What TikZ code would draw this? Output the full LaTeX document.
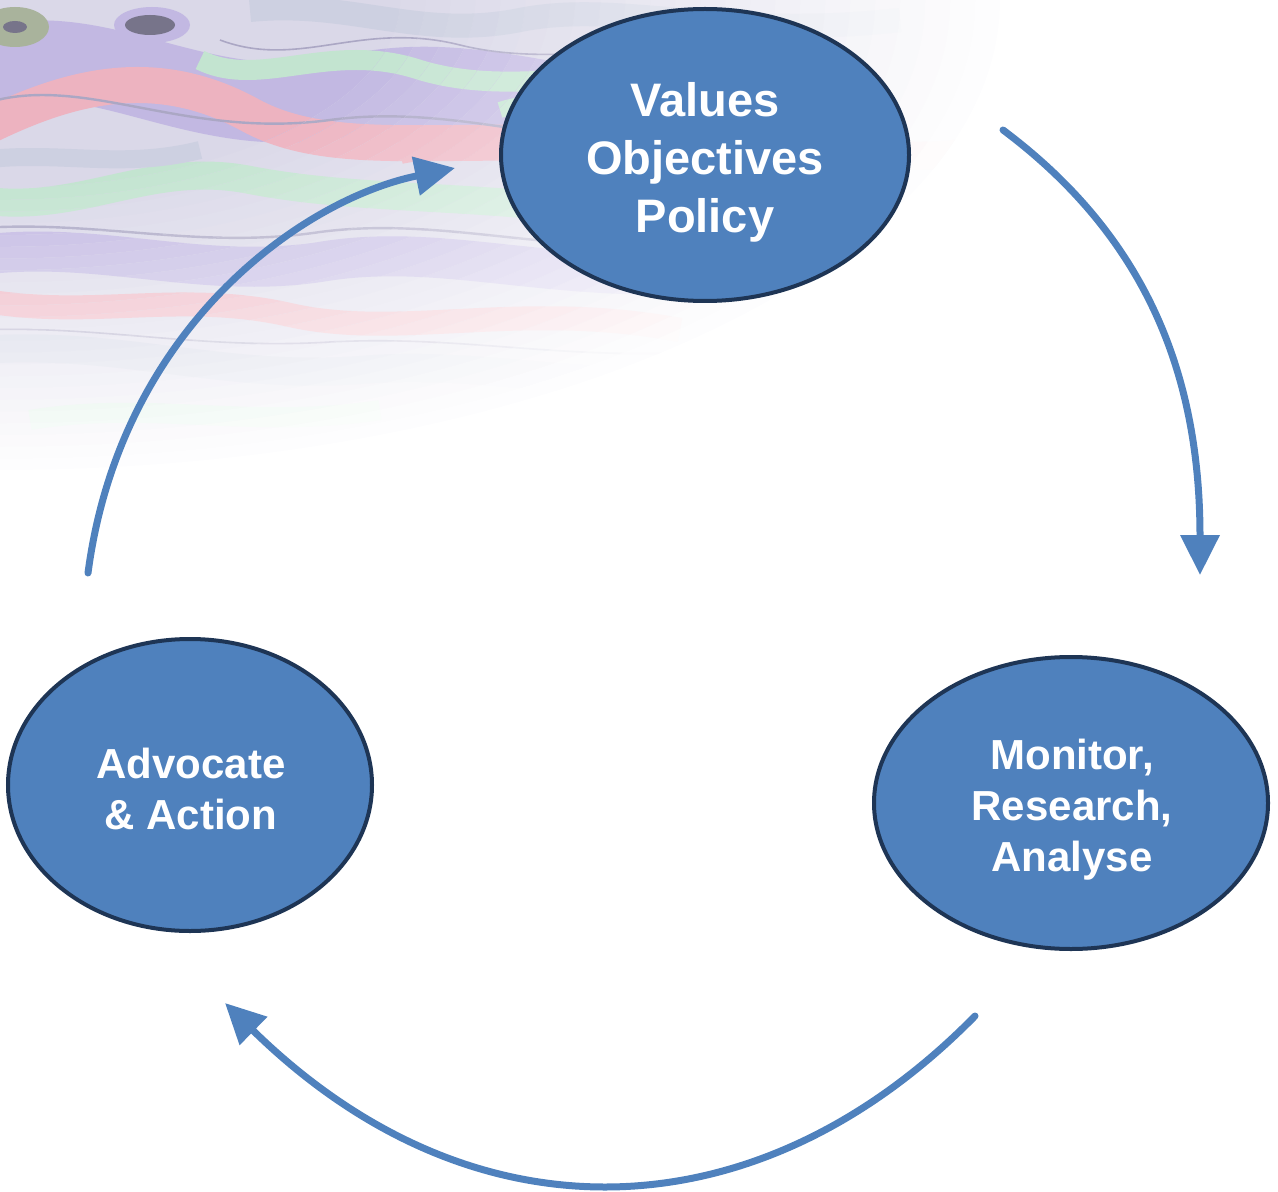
\documentclass[tikz,border=0pt]{standalone}
\usepackage{fontspec}
\setmainfont{Liberation Sans}
\usetikzlibrary{shapes.geometric,arrows.meta}
\definecolor{nodeblue}{HTML}{4F81BD}
\definecolor{nodeborder}{HTML}{1E3555}
\definecolor{arcblue}{HTML}{4F81BD}
\definecolor{texbase}{HTML}{DAD8E8}
\definecolor{texlav}{HTML}{C2B8E2}
\definecolor{texpink}{HTML}{EDB3C0}
\definecolor{texmint}{HTML}{C3E4D0}
\definecolor{texgrey}{HTML}{CDD0E1}
\definecolor{texline}{HTML}{ABA7C4}
\definecolor{texdark}{HTML}{77748A}
\definecolor{texolive}{HTML}{A9B39C}
\newcommand{\marblepaint}[1]{%
  \fill[texbase!#1!white] (0,0) rectangle (1000,470);
  \draw[line width=40pt, texlav!#1!white] (-20,70) .. controls (100,30) and (200,130) .. (350,95)
        .. controls (500,60) and (620,150) .. (820,110);
  \draw[line width=18pt, texpink!#1!white] (-20,130) .. controls (60,90) and (150,60) .. (250,115)
        .. controls (350,170) and (500,120) .. (720,160);
  \draw[line width=14pt, texmint!#1!white] (-20,200) .. controls (80,215) and (150,160) .. (250,180)
        .. controls (380,205) and (520,190) .. (700,230);
  \draw[line width=20pt, texlav!#1!white] (-20,255) .. controls (100,240) and (200,280) .. (320,262)
        .. controls (450,240) and (560,290) .. (760,270);
  \draw[line width=12pt, texpink!#1!white] (-20,300) .. controls (90,320) and (180,290) .. (290,315)
        .. controls (400,340) and (520,300) .. (680,330);
  \draw[line width=14pt, texgrey!#1!white] (-20,350) .. controls (120,340) and (220,380) .. (360,370)
        .. controls (480,360) and (580,390) .. (720,380);
  \draw[line width=10pt, texmint!#1!white] (200,60) .. controls (260,90) and (330,40) .. (420,70)
        .. controls (520,100) and (620,60) .. (760,80);
  \draw[line width=14pt, texpink!#1!white] (400,150) .. controls (500,130) and (600,170) .. (700,150)
        .. controls (800,130) and (880,170) .. (980,150);
  \draw[line width=12pt, texgrey!#1!white] (250,10) .. controls (350,0) and (420,40) .. (520,20)
        .. controls (620,0) and (720,40) .. (900,20);
  \draw[line width=10pt, texmint!#1!white] (30,420) .. controls (150,400) and (250,430) .. (380,410);
  \draw[line width=9pt, texgrey!#1!white] (-20,160) .. controls (60,150) and (120,170) .. (200,150);
  \draw[line width=8pt, texmint!#1!white] (500,110) .. controls (560,90) and (640,120) .. (720,100);
  \draw[line width=1.2pt, texline!#1!white] (-20,105) .. controls (80,70) and (180,140) .. (330,120)
        .. controls (480,100) and (600,170) .. (820,140);
  \draw[line width=1.2pt, texline!#1!white] (-20,228) .. controls (100,220) and (200,250) .. (320,232)
        .. controls (450,215) and (560,260) .. (760,245);
  \draw[line width=0.8pt, texline!#1!white] (-20,330) .. controls (100,325) and (200,350) .. (330,342)
        .. controls (460,335) and (560,360) .. (700,352);
  \draw[line width=0.8pt, texline!#1!white] (220,40) .. controls (300,70) and (360,20) .. (460,45)
        .. controls (560,70) and (660,35) .. (820,55);
  \fill[texolive!#1!white] (15,27) ellipse [x radius=34, y radius=20];
  \fill[texdark!#1!white] (15,27) ellipse [x radius=12, y radius=6];
  \fill[texlav!#1!white] (152,25) ellipse [x radius=38, y radius=18];
  \fill[texdark!#1!white] (150,25) ellipse [x radius=25, y radius=10];
}
\begin{document}
\begin{tikzpicture}[x=0.5pt,y=-0.5pt,
  stage/.style={ellipse, draw=nodeborder, line width=2pt, fill=nodeblue, inner sep=0pt},
  stagetext/.style={text=white, align=center, inner sep=0pt},
  bigtext/.style={font=\fontsize{23.5}{29}\selectfont\bfseries},
  midtext/.style={font=\fontsize{21}{25.5}\selectfont\bfseries},
  cycle arrow/.style={draw=arcblue, line width=3.5pt, line cap=round,
    -{Triangle[length=20pt,width=19pt]}}]
\useasboundingbox (0,0) rectangle (1278,1192);

% ---- marbled background texture (top-left), fading into white ----
\foreach \k in {0,...,24}{
  \pgfmathsetmacro{\f}{1-0.025*\k}
  \pgfmathtruncatemacro{\p}{min(100,4*\k+4)}
  \begin{scope}
    \clip (0,0) ellipse [x radius=1000*\f, y radius=470*\f];
    \marblepaint{\p}
  \end{scope}
}

% ---- stages ----
\node[stage, minimum width=204pt, minimum height=146pt] (values) at (705,155) {};
\node[stagetext, bigtext] (valuestext) at (705,162) {Values\\Objectives\\Policy};
\node[stage, minimum width=197pt, minimum height=146pt] (monitor) at (1071,803) {};
\node[stagetext, midtext] (monitortext) at (1072,810) {Monitor,\\Research,\\Analyse};
\node[stage, minimum width=182pt, minimum height=146pt] (advocate) at (190,785) {};
\node[stagetext, midtext] (advocatetext) at (191,789) {Advocate\\\&~Action};

% ---- cycle arrows ----
\coordinate (a1s) at (88,573);
\coordinate (a1e) at (455,168);
\coordinate (a2s) at (1003,130);
\coordinate (a2e) at (1200,575);
\coordinate (a3s) at (975,1016);
\coordinate (a3e) at (225,1003);
\draw[cycle arrow] (a1s) .. controls (120,330) and (300,200) .. (a1e);
\draw[cycle arrow] (a2s) .. controls (1150,240) and (1200,380) .. (a2e);
\draw[cycle arrow] (a3s) .. controls (760,1235) and (475,1248) .. (a3e);
\end{tikzpicture}
\end{document}
